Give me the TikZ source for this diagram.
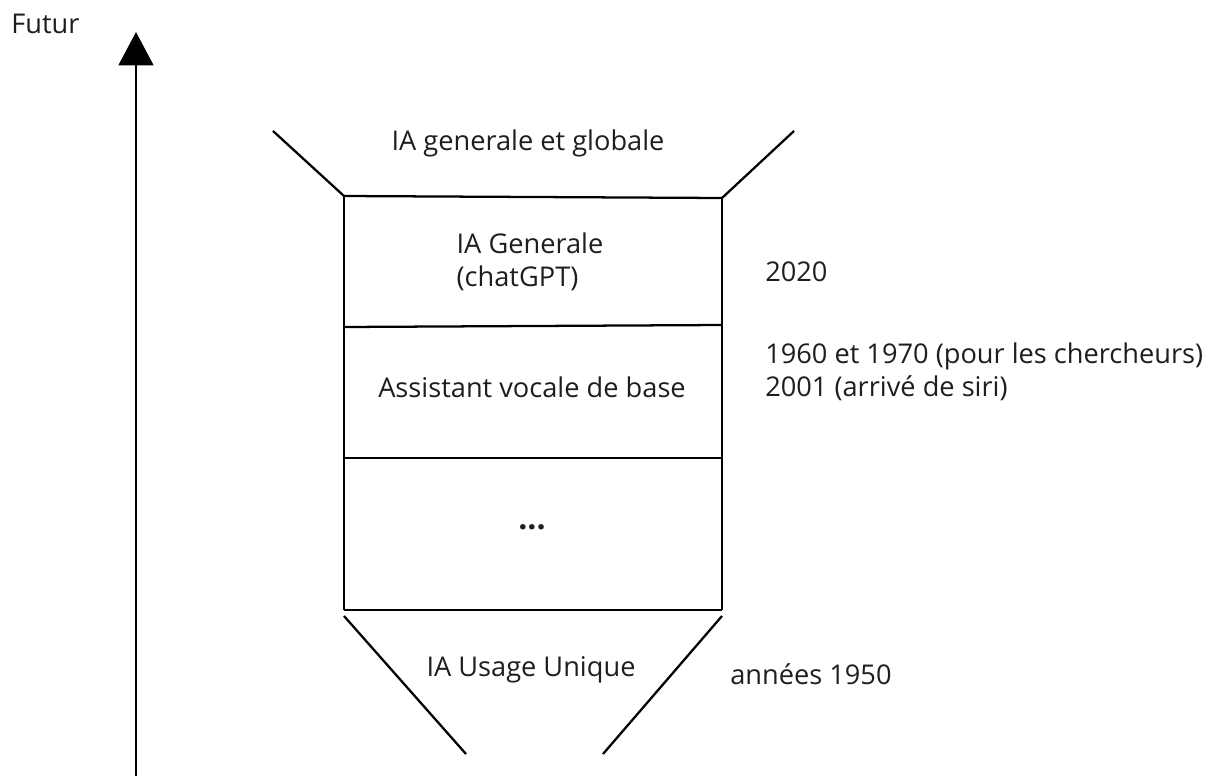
\documentclass[tikz,border=0pt]{standalone}
\usepackage{fontspec}
\setmainfont{Open Sans}
\usetikzlibrary{arrows.meta}
\definecolor{txt}{HTML}{1E1E1E}
\begin{document}
\begin{tikzpicture}[x=0.75pt,y=-0.75pt,
  lbl/.style={text=txt,font=\fontsize{20.4}{25}\selectfont,inner sep=0pt},
  ln/.style={line width=1.7pt,black}]
\useasboundingbox (0,0) rectangle (1210,778);
% axis
\coordinate (axb) at (136,776);
\coordinate (axt) at (136,32);
\draw[line width=2pt,-{Triangle[length=25pt,width=26pt]}] (axb) -- (axt);
\node[lbl,anchor=west] (futur) at (11,24) {Futur};
% box corners
\coordinate (tl) at (344,196);
\coordinate (tr) at (722,198);
\coordinate (l1) at (344,327);
\coordinate (r1) at (722,325);
\coordinate (l2) at (344,458);
\coordinate (r2) at (722,458);
\coordinate (bl) at (344,610);
\coordinate (br) at (722,610);
\coordinate (ftl) at (273,131);
\coordinate (ftr) at (794,131);
\coordinate (fbl0) at (344,616);
\coordinate (fbr0) at (722,616);
\coordinate (fbl) at (466,754);
\coordinate (fbr) at (603,754);
\draw[ln] (tl) -- (bl);
\draw[ln] (tr) -- (br);
\draw[ln] (tl) -- (tr);
\draw[ln] (l1) -- (r1);
\draw[ln] (l2) -- (r2);
\draw[ln] (bl) -- (br);
\draw[ln] (ftl) -- (tl);
\draw[ln] (ftr) -- (tr);
\draw[ln] (fbl0) -- (fbl);
\draw[ln] (fbr0) -- (fbr);
% labels
\node[lbl] (glob) at (528,143) {IA generale et globale};
\node[lbl,align=left] (gen) at (530,262) {IA Generale\\(chatGPT)};
\node[lbl,anchor=west] (y2020) at (765,272) {2020};
\node[lbl] (assist) at (532,387) {Assistant vocale de base};
\node[lbl,anchor=west,align=left] (y1960) at (765,372) {1960 et 1970 (pour les chercheurs)\\2001 (arrivé de siri)};
\node[lbl,font=\fontsize{24}{28}\bfseries] (dots) at (532,527) {...};
\node[lbl] (usage) at (531,670) {IA Usage Unique};
\node[lbl,anchor=west] (y1950) at (730,674) {années 1950};
\end{tikzpicture}
\end{document}
